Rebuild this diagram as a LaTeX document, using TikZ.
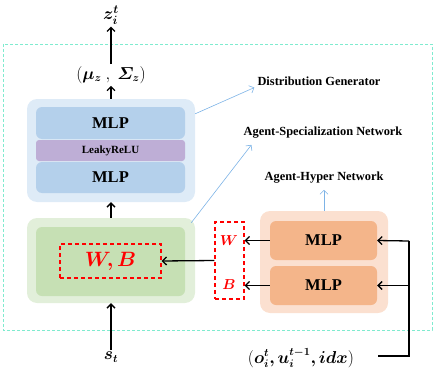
\documentclass[tikz,border=0pt]{standalone}
\usepackage{fontspec}
\setmainfont{Liberation Serif}
\usepackage{amsmath}
\usepackage{bm}
\usetikzlibrary{arrows.meta,calc}

\definecolor{blueout}{HTML}{DEEBF7}
\definecolor{bluein}{HTML}{B4D0EB}
\definecolor{relupurple}{HTML}{BEAED6}
\definecolor{greenout}{HTML}{E2EFDA}
\definecolor{greenin}{HTML}{C6E0B4}
\definecolor{orangeout}{HTML}{FBE0D0}
\definecolor{orangein}{HTML}{F4B58A}
\definecolor{mint}{HTML}{7FEBCF}
\definecolor{hintblue}{HTML}{7DB3E6}

\begin{document}
\begin{tikzpicture}[x=1pt,y=-1pt,
    >={Straight Barb[length=4pt,width=8pt]},
    outerbox/.style={rectangle,rounded corners=10pt,inner sep=0pt},
    innerbox/.style={rectangle,rounded corners=6pt,inner sep=0pt,
      font=\bfseries\fontsize{16.5}{19}\selectfont},
    redbox/.style={draw=red,dash pattern=on 4pt off 3pt,line width=1.2pt,inner sep=0pt},
    lbl/.style={inner sep=1pt,font=\bfseries\fontsize{12.4}{14}\selectfont},
    mathlbl/.style={inner sep=2pt,font=\fontsize{16}{19}\selectfont},
    flow/.style={->,line width=1.3pt,black},
    hint/.style={->,line width=0.6pt,hintblue}]
  \useasboundingbox (0,0) rectangle (436,369);

  % outer frame
  \draw[mint,dash pattern=on 3pt off 2pt,line width=0.8pt] (3,44) rectangle (432,330);

  % distribution generator
  \node[outerbox,fill=blueout,minimum width=168,minimum height=103] (blueout) at (111,150.5) {};
  \node[innerbox,fill=bluein,minimum width=149,minimum height=32] (mlpA) at (110.5,123) {MLP};
  \node[innerbox,rounded corners=3pt,fill=relupurple,minimum width=149,minimum height=21,
    font=\bfseries\fontsize{11}{12}\selectfont] (relu) at (110.5,150.5) {LeakyReLU};
  \node[innerbox,fill=bluein,minimum width=149,minimum height=31] (mlpB) at (110.5,177.5) {MLP};

  % agent-specialization network
  \node[outerbox,fill=greenout,minimum width=168,minimum height=85] (greenout) at (111,260.5) {};
  \node[innerbox,fill=greenin,minimum width=149,minimum height=69] (greenin) at (110.5,261.5) {};
  \node[redbox,minimum width=101,minimum height=34,text=red,font=\fontsize{21}{24}\selectfont]
    (wb) at (110.5,261) {$\bm{W,B}$};

  \node[redbox,minimum width=29,minimum height=77] (redsmall) at (229.5,260.5) {};
  \node[text=red,font=\fontsize{14.6}{17}\selectfont] (w) at (229,241) {$\bm{W}$};
  \node[text=red,font=\fontsize{14.6}{17}\selectfont] (b) at (229,285) {$\bm{B}$};

  % agent-hyper network
  \node[outerbox,fill=orangeout,minimum width=128,minimum height=102] (orangeout) at (324,262) {};
  \node[innerbox,fill=orangein,minimum width=107,minimum height=39] (mlpC) at (323.5,240.5) {MLP};
  \node[innerbox,fill=orangein,minimum width=107,minimum height=39] (mlpD) at (323.5,285.5) {MLP};

  % texts
  \node[mathlbl] (mu) at (111,75) {$(\bm{\mu_z}\ ,\ \bm{\varSigma_z})$};
  \node[mathlbl,font=\fontsize{17.5}{20}\selectfont] (z) at (111,15) {$\bm{z_i^t}$};
  \node[mathlbl] (s) at (111,357) {$\bm{s_t}$};
  \node[mathlbl] (obs) at (301,358) {$(\bm{o_i^t, u_i^{t-1}, idx})$};
  \node[lbl] (dg) at (319,81) {Distribution Generator};
  \node[lbl] (asn) at (323,133) {Agent-Specialization Network};
  \node[lbl] (ahn) at (324,178) {Agent-Hyper Network};

  % connectors
  \draw[flow] (blueout.north) -- (mu.south);
  \draw[flow] (mu.north) -- (z.south);
  \draw[flow] (greenout.north) -- (blueout.south);
  \draw[flow] (s.north) -- (greenout.south);
  \draw[flow] (redsmall.west) -- (wb.east);
  \draw[flow] (mlpC.west) -- (mlpC.west -| redsmall.east);
  \draw[flow] (mlpD.west) -- (mlpD.west -| redsmall.east);
  \coordinate (turn) at (409,241);
  \draw[line width=1.3pt] ($(obs.east)+(22,-2)$) -| (turn);
  \draw[flow] (turn) -- (mlpC.east);
  \draw[flow] (turn |- mlpD.east) -- (mlpD.east);

  \draw[hint] ($(blueout.north east)+(0,15)$) -- ($(dg.south west)+(-2,1)$);
  \draw[hint] ($(greenout.north east)+(-4,5)$) -- ($(asn.south west)+(9,5)$);
  \draw[hint,shorten >=5pt] (orangeout.north) -- (ahn.south);
\end{tikzpicture}
\end{document}
